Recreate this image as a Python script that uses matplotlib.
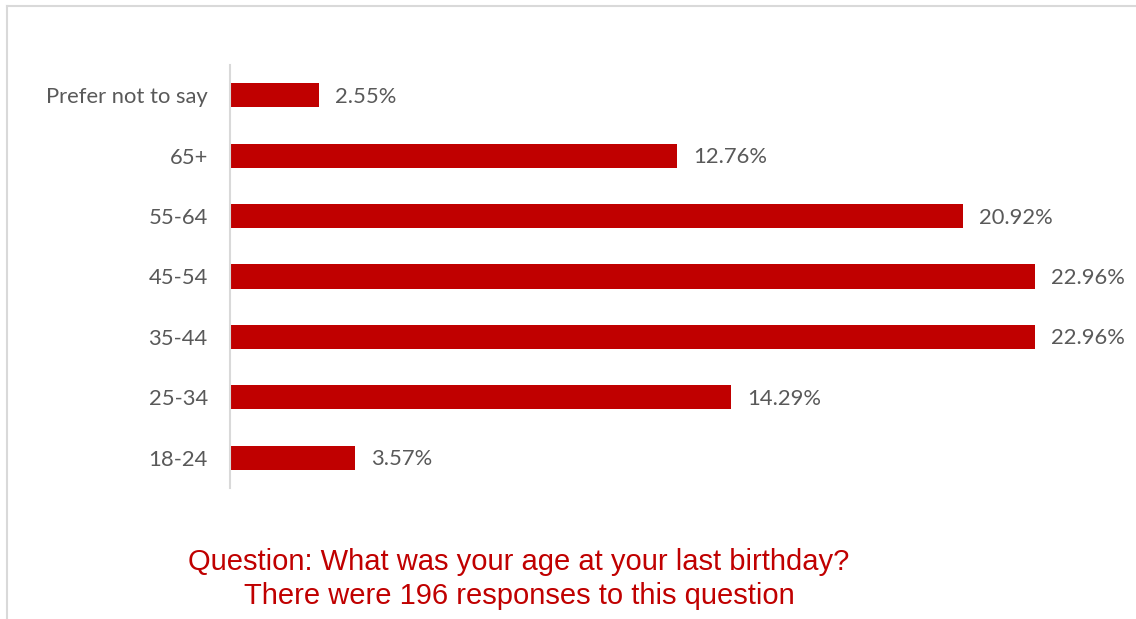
import matplotlib
matplotlib.use("Agg")
import matplotlib.pyplot as plt
from matplotlib.lines import Line2D

# Dados (de baixo para cima)
categorias = ["18-24", "25-34", "35-44", "45-54", "55-64", "65+", "Prefer not to say"]
percentuais = [3.57, 14.29, 22.96, 22.96, 20.92, 12.76, 2.55]
rotulos = ["3.57%", "14.29%", "22.96%", "22.96%", "20.92%", "12.76%", "2.55%"]
titulo = "Question: What was your age at your last birthday?\nThere were 196 responses to this question"

VERMELHO = "#C00000"
CINZA_TEXTO = "#595959"
CINZA_LINHA = "#D9D9D9"

W, H = 1136, 619


def main():
	fig = plt.figure(figsize=(W / 100, H / 100), dpi=100)
	fig.patch.set_facecolor("white")

	# moldura do gráfico (só topo e esquerda aparecem)
	fig.add_artist(Line2D([7 / W, 1], [1 - 6 / H, 1 - 6 / H], color=CINZA_LINHA, lw=1.5, transform=fig.transFigure))
	fig.add_artist(Line2D([7 / W, 7 / W], [1 - 6 / H, 0], color=CINZA_LINHA, lw=1.5, transform=fig.transFigure))

	ax = fig.add_axes([230 / W, 1 - 488 / H, (1106 - 230) / W, (488 - 65) / H])
	y = list(range(len(categorias)))
	ax.barh(y, percentuais, height=0.4, color=VERMELHO)
	ax.set_xlim(0, 25)
	ax.set_ylim(-0.5, len(categorias) - 0.5)

	for yi, v, r in zip(y, percentuais, rotulos):
		ax.annotate(r, (v, yi), xytext=(16, -1.5), textcoords="offset pixels",
					va="center", ha="left", fontsize=15.8, color=CINZA_TEXTO, family="Lato")

	ax.set_yticks(y)
	ax.set_yticklabels(categorias, fontsize=15.8, color=CINZA_TEXTO, family="Lato")
	ax.tick_params(axis="y", length=0, pad=16)
	ax.set_xticks([])
	for lado in ["top", "right", "bottom"]:
		ax.spines[lado].set_visible(False)
	ax.spines["left"].set_color(CINZA_LINHA)
	ax.spines["left"].set_linewidth(1.5)

	fig.text(519 / W, 1 - 579 / H, titulo, ha="center", va="center", fontsize=21,
			 color=VERMELHO, family="Liberation Sans", linespacing=1.3)

	fig.savefig("out.png", dpi=100)


if __name__ == "__main__":
	main()
